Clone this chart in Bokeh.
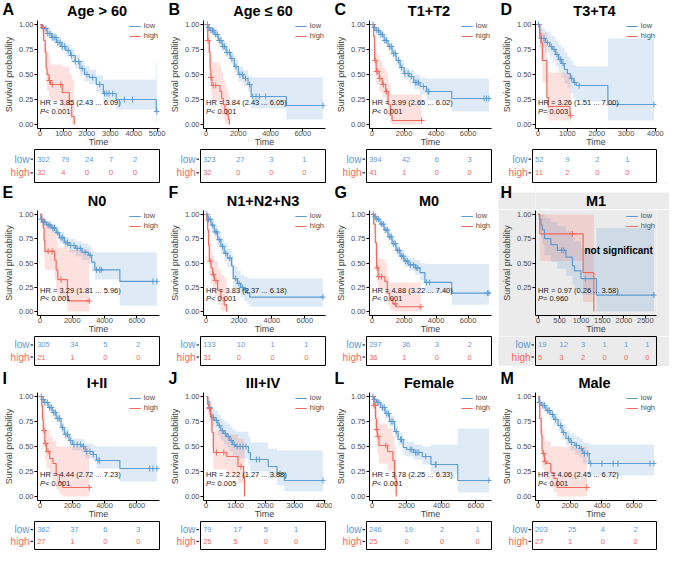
from bokeh.plotting import figure
from bokeh.layouts import row, column
from bokeh.models import Legend, LegendItem, FixedTicker, Range1d, BoxAnnotation
from bokeh.core.properties import value
from bokeh.embed import file_html
from bokeh.resources import INLINE

FONT = "Liberation Sans"
BLUE = "#5c9bd3"
RED = "#f26a5e"
GRAY_BG = "#ebebeb"
TICK_COL = "#4d4d4d"

y_ticks = [0, 0.25, 0.5, 0.75, 1.0]
y_tick_labels = ["0.00", "0.25", "0.50", "0.75", "1.00"]

# ---------------- A: Age > 60 ----------------
A_low_t = [0, 100, 300, 500, 700, 900, 1100, 1300, 1500, 1700, 1900, 2100, 2400, 2700, 3250, 4960]
A_low_s = [1.0, 0.96, 0.91, 0.87, 0.82, 0.78, 0.74, 0.69, 0.63, 0.56, 0.50, 0.47, 0.40, 0.31, 0.25, 0.13]
A_low_lo = [1.0, 0.94, 0.88, 0.83, 0.77, 0.73, 0.68, 0.62, 0.56, 0.49, 0.43, 0.40, 0.32, 0.22, 0.15, 0.02]
A_low_hi = [1.0, 0.98, 0.94, 0.91, 0.87, 0.84, 0.80, 0.76, 0.70, 0.64, 0.58, 0.55, 0.49, 0.45, 0.45, 0.62]
A_low_cens = [150, 250, 330, 420, 520, 600, 680, 760, 850, 950, 1050, 1200, 1350, 1500, 1650, 1800, 2000, 2250, 2550, 2750, 2850, 2950, 3100, 3600, 3950, 4990]
A_high_t = [0, 50, 150, 220, 260, 300, 380, 450, 950, 1250, 1350, 1460]
A_high_s = [1.0, 0.97, 0.84, 0.72, 0.56, 0.50, 0.44, 0.40, 0.32, 0.20, 0.08, 0.0]
A_high_lo = [1.0, 0.91, 0.72, 0.58, 0.41, 0.34, 0.28, 0.24, 0.16, 0.06, 0.0, 0.0]
A_high_hi = [1.0, 1.0, 0.98, 0.90, 0.76, 0.72, 0.66, 0.60, 0.58, 0.50, 0.45, 0.0]
A_high_cens = [130, 400, 520, 880]
A_ticks = [0, 1000, 2000, 3000, 4000, 5000]
A_risk_t = [0, 1000, 2000, 3000, 4000]
A_risk_low = [302, 79, 24, 7, 2]
A_risk_high = [32, 4, 0, 0, 0]

# ---------------- B: Age <= 60 ----------------
B_low_t = [0, 100, 250, 500, 750, 1000, 1250, 1500, 1750, 2000, 2300, 2600, 2800, 4980]
B_low_s = [1.0, 0.97, 0.94, 0.90, 0.84, 0.78, 0.72, 0.66, 0.58, 0.50, 0.46, 0.40, 0.28, 0.19]
B_low_lo = [1.0, 0.95, 0.92, 0.87, 0.80, 0.74, 0.67, 0.60, 0.52, 0.43, 0.39, 0.32, 0.16, 0.05]
B_low_hi = [1.0, 0.99, 0.97, 0.93, 0.88, 0.83, 0.77, 0.72, 0.65, 0.58, 0.54, 0.49, 0.47, 0.47]
B_low_cens = [80, 180, 300, 400, 480, 600, 700, 820, 920, 1050, 1150, 1300, 1450, 1600, 1850, 2100, 2250, 2450, 2700, 2900, 3100, 3300, 3700, 7250]
B_high_t = [0, 100, 200, 250, 300, 360, 870, 970, 1070, 1170, 1270, 1380, 1450]
B_high_s = [1.0, 0.84, 0.72, 0.55, 0.47, 0.39, 0.33, 0.26, 0.20, 0.15, 0.10, 0.05, 0.0]
B_high_lo = [1.0, 0.72, 0.58, 0.40, 0.31, 0.23, 0.17, 0.10, 0.05, 0.01, 0.0, 0.0, 0.0]
B_high_hi = [1.0, 0.98, 0.90, 0.76, 0.68, 0.62, 0.58, 0.52, 0.45, 0.40, 0.35, 0.30, 0.0]
B_high_cens = [120, 300, 450, 600]
B_ticks = [0, 2000, 4000, 6000]
B_risk_t = [0, 2000, 4000, 6000]
B_risk_low = [323, 27, 3, 1]
B_risk_high = [32, 0, 0, 0]

# ---------------- C: T1+T2 ----------------
C_low_t = [0, 100, 250, 500, 750, 1000, 1250, 1500, 1750, 2000, 2300, 2600, 3000, 3400, 4980]
C_low_s = [1.0, 0.97, 0.94, 0.90, 0.84, 0.78, 0.71, 0.64, 0.57, 0.51, 0.48, 0.42, 0.38, 0.33, 0.26]
C_low_lo = [1.0, 0.95, 0.92, 0.87, 0.81, 0.74, 0.67, 0.59, 0.52, 0.45, 0.41, 0.35, 0.30, 0.24, 0.13]
C_low_hi = [1.0, 0.99, 0.96, 0.93, 0.88, 0.82, 0.76, 0.69, 0.63, 0.57, 0.55, 0.50, 0.47, 0.46, 0.46]
C_low_cens = [60, 150, 300, 400, 550, 650, 800, 900, 1100, 1200, 1350, 1450, 1650, 1850, 2050, 2250, 2450, 2700, 2800, 2900, 3200, 3500, 3550, 7000, 7150, 7300]
C_high_t = [0, 100, 160, 260, 450, 650, 850, 1000, 1150, 1250]
C_high_s = [1.0, 0.88, 0.64, 0.53, 0.46, 0.40, 0.33, 0.20, 0.09, 0.04]
C_high_lo = [1.0, 0.78, 0.51, 0.40, 0.33, 0.27, 0.20, 0.09, 0.02, 0.0]
C_high_hi = [1.0, 0.98, 0.80, 0.70, 0.63, 0.57, 0.52, 0.40, 0.30, 0.30]
C_high_cens = [200, 300, 350, 500, 700, 900, 3100]
C_ticks = [0, 2000, 4000, 6000]
C_risk_t = [0, 2000, 4000, 6000]
C_risk_low = [394, 42, 6, 3]
C_risk_high = [41, 1, 0, 0]

# ---------------- D: T3+T4 ----------------
D_low_t = [0, 60, 250, 400, 500, 600, 700, 800, 900, 1000, 1100, 1200, 1300, 2380]
D_low_s = [1.0, 0.86, 0.82, 0.78, 0.75, 0.70, 0.65, 0.61, 0.55, 0.51, 0.46, 0.42, 0.39, 0.20]
D_low_lo = [1.0, 0.77, 0.72, 0.67, 0.63, 0.58, 0.52, 0.47, 0.41, 0.37, 0.31, 0.26, 0.23, 0.04]
D_low_hi = [1.0, 0.96, 0.93, 0.90, 0.88, 0.84, 0.80, 0.77, 0.72, 0.68, 0.64, 0.60, 0.58, 0.86]
D_low_cens = [20, 120, 200, 320, 450, 550, 650, 750, 780, 850, 1150, 1250, 1400, 3950]
D_high_t = [0, 50, 100, 150, 300, 350, 1090]
D_high_s = [1.0, 0.91, 0.82, 0.64, 0.27, 0.18, 0.09]
D_high_lo = [1.0, 0.75, 0.62, 0.42, 0.10, 0.04, 0.0]
D_high_hi = [1.0, 1.0, 1.0, 0.92, 0.62, 0.52, 0.50]
D_high_cens = [1110]
D_ticks = [0, 1000, 2000, 3000, 4000]
D_risk_t = [0, 1000, 2000, 3000]
D_risk_low = [52, 9, 2, 1]
D_risk_high = [11, 2, 0, 0]

# ---------------- E: N0 ----------------
E_low_t = [0, 50, 150, 400, 700, 1000, 1200, 1500, 1800, 2200, 2600, 3000, 3200, 3400, 4950]
E_low_s = [1.0, 0.95, 0.92, 0.89, 0.86, 0.81, 0.76, 0.71, 0.68, 0.65, 0.61, 0.58, 0.51, 0.43, 0.31]
E_low_lo = [1.0, 0.92, 0.89, 0.85, 0.81, 0.76, 0.70, 0.65, 0.61, 0.57, 0.53, 0.49, 0.41, 0.33, 0.06]
E_low_hi = [1.0, 0.98, 0.96, 0.93, 0.90, 0.86, 0.82, 0.77, 0.75, 0.72, 0.70, 0.68, 0.62, 0.61, 0.61]
E_low_cens = [80, 200, 300, 500, 600, 800, 900, 1100, 1300, 1400, 1600, 1700, 1900, 2100, 2300, 2500, 2800, 3100, 3500, 3700, 3800, 7000, 7250]
E_high_t = [0, 100, 200, 250, 300, 900, 1000, 1100, 1700]
E_high_s = [1.0, 0.95, 0.86, 0.73, 0.62, 0.53, 0.43, 0.33, 0.11]
E_high_lo = [1.0, 0.86, 0.72, 0.55, 0.43, 0.33, 0.22, 0.13, 0.0]
E_high_hi = [1.0, 1.0, 1.0, 0.95, 0.88, 0.82, 0.74, 0.66, 0.64]
E_high_cens = [500, 750, 1300, 3050]
E_ticks = [0, 2000, 4000, 6000]
E_risk_t = [0, 2000, 4000, 6000]
E_risk_low = [305, 34, 5, 2]
E_risk_high = [21, 1, 0, 0]

# ---------------- F: N1+N2+N3 ----------------
F_low_t = [0, 100, 300, 500, 700, 900, 1100, 1300, 1550, 1650, 1900, 2100, 2300, 2500, 2650]
F_low_s = [1.0, 0.95, 0.89, 0.82, 0.74, 0.67, 0.60, 0.55, 0.47, 0.34, 0.29, 0.25, 0.22, 0.19, 0.15]
F_low_lo = [1.0, 0.91, 0.84, 0.76, 0.67, 0.59, 0.52, 0.46, 0.37, 0.24, 0.19, 0.15, 0.11, 0.08, 0.05]
F_low_hi = [1.0, 0.99, 0.95, 0.89, 0.82, 0.76, 0.70, 0.65, 0.58, 0.47, 0.42, 0.38, 0.36, 0.34, 0.34]
F_low_cens = [50, 150, 250, 400, 550, 650, 800, 1000, 1200, 1450, 1800, 2000, 2200, 2400, 7100]
F_high_t = [0, 50, 100, 150, 200, 300, 400, 500, 700, 900, 1100, 1250]
F_high_s = [1.0, 0.93, 0.84, 0.68, 0.52, 0.45, 0.38, 0.32, 0.22, 0.14, 0.07, 0.0]
F_high_lo = [1.0, 0.84, 0.72, 0.54, 0.37, 0.29, 0.22, 0.16, 0.07, 0.01, 0.0, 0.0]
F_high_hi = [1.0, 1.0, 0.97, 0.84, 0.70, 0.63, 0.57, 0.52, 0.44, 0.38, 0.35, 0.0]
F_high_cens = [250, 450, 600]
F_ticks = [0, 2000, 4000, 6000]
F_risk_t = [0, 2000, 4000, 6000]
F_risk_low = [133, 10, 1, 1]
F_risk_high = [31, 0, 0, 0]

# ---------------- G: M0 ----------------
G_low_t = [0, 100, 250, 500, 750, 1000, 1250, 1500, 1750, 2000, 2300, 2700, 3000, 3300, 4980]
G_low_s = [1.0, 0.98, 0.95, 0.90, 0.84, 0.77, 0.70, 0.63, 0.57, 0.52, 0.48, 0.45, 0.40, 0.30, 0.19]
G_low_lo = [1.0, 0.97, 0.93, 0.87, 0.80, 0.73, 0.66, 0.58, 0.52, 0.46, 0.42, 0.38, 0.32, 0.19, 0.07]
G_low_hi = [1.0, 0.99, 0.97, 0.93, 0.88, 0.82, 0.75, 0.68, 0.63, 0.58, 0.55, 0.53, 0.50, 0.49, 0.49]
G_low_cens = [80, 200, 300, 400, 600, 700, 850, 950, 1100, 1200, 1350, 1450, 1600, 1700, 1850, 1950, 2100, 2200, 2400, 2600, 2750, 2850, 3400, 3600, 7200, 7300]
G_high_t = [0, 100, 200, 280, 380, 800, 950, 1100, 1300, 1500]
G_high_s = [1.0, 0.90, 0.71, 0.45, 0.36, 0.31, 0.19, 0.13, 0.08, 0.05]
G_high_lo = [1.0, 0.81, 0.58, 0.31, 0.23, 0.18, 0.07, 0.02, 0.0, 0.0]
G_high_hi = [1.0, 0.99, 0.86, 0.62, 0.54, 0.50, 0.36, 0.30, 0.30, 0.30]
G_high_cens = [320, 420, 600, 1450, 3050]
G_ticks = [0, 2000, 4000, 6000]
G_risk_t = [0, 2000, 4000, 6000]
G_risk_low = [297, 36, 3, 2]
G_risk_high = [36, 1, 0, 0]

# ---------------- H: M1 ----------------
H_low_t = [0, 30, 70, 100, 150, 300, 450, 650, 800, 850, 1000, 1360]
H_low_s = [1.0, 0.95, 0.89, 0.84, 0.75, 0.69, 0.63, 0.56, 0.47, 0.42, 0.34, 0.17]
H_low_lo = [1.0, 0.85, 0.76, 0.69, 0.58, 0.51, 0.44, 0.37, 0.28, 0.23, 0.17, 0.0]
H_low_hi = [1.0, 1.0, 1.0, 1.0, 0.96, 0.92, 0.88, 0.83, 0.76, 0.72, 0.65, 0.86]
H_low_cens = [550, 600, 1100, 2700]
H_high_t = [0, 40, 1050, 1300]
H_high_s = [1.0, 0.80, 0.40, 0.0]
H_high_lo = [1.0, 0.52, 0.10, 0.0]
H_high_hi = [1.0, 1.0, 1.0, 0.0]
H_high_cens = [800]
H_ticks = [0, 500, 1000, 1500, 2000, 2500]
H_risk_t = [0, 500, 1000, 1500, 2000, 2500]
H_risk_low = [19, 12, 3, 1, 1, 1]
H_risk_high = [5, 3, 2, 0, 0, 0]

# ---------------- I: I+II ----------------
I_low_t = [0, 100, 250, 500, 750, 1000, 1300, 1500, 1800, 2000, 2600, 2800, 3300, 3500, 4950]
I_low_s = [1.0, 0.97, 0.94, 0.89, 0.84, 0.78, 0.69, 0.62, 0.56, 0.52, 0.50, 0.45, 0.42, 0.36, 0.28]
I_low_lo = [1.0, 0.95, 0.91, 0.86, 0.80, 0.74, 0.64, 0.57, 0.50, 0.46, 0.44, 0.38, 0.35, 0.28, 0.15]
I_low_hi = [1.0, 0.99, 0.96, 0.93, 0.88, 0.83, 0.74, 0.68, 0.62, 0.58, 0.57, 0.53, 0.51, 0.50, 0.50]
I_low_cens = [80, 200, 300, 450, 600, 700, 850, 950, 1100, 1200, 1400, 1600, 1700, 1900, 2100, 2300, 2500, 2700, 2900, 3100, 3300, 3600, 3700, 6800, 7000, 7250]
I_high_t = [0, 100, 150, 200, 300, 400, 600, 800, 1000, 1200, 1400]
I_high_s = [1.0, 0.91, 0.77, 0.66, 0.53, 0.45, 0.38, 0.33, 0.22, 0.14, 0.09]
I_high_lo = [1.0, 0.80, 0.62, 0.49, 0.36, 0.28, 0.21, 0.16, 0.07, 0.02, 0.0]
I_high_hi = [1.0, 1.0, 0.93, 0.84, 0.73, 0.66, 0.60, 0.56, 0.50, 0.50, 0.50]
I_high_cens = [250, 350, 500, 3050]
I_ticks = [0, 2000, 4000, 6000]
I_risk_t = [0, 2000, 4000, 6000]
I_risk_low = [362, 37, 6, 3]
I_risk_high = [27, 1, 0, 0]

# ---------------- J: III+IV ----------------
J_low_t = [0, 50, 100, 150, 200, 300, 400, 500, 600, 700, 800, 900, 1000, 1430, 1500, 2100, 2400, 2650]
J_low_s = [1.0, 0.95, 0.89, 0.82, 0.79, 0.76, 0.71, 0.66, 0.63, 0.60, 0.56, 0.52, 0.50, 0.44, 0.37, 0.30, 0.23, 0.16]
J_low_lo = [1.0, 0.90, 0.82, 0.74, 0.70, 0.67, 0.61, 0.56, 0.52, 0.49, 0.45, 0.41, 0.38, 0.32, 0.25, 0.18, 0.11, 0.05]
J_low_hi = [1.0, 1.0, 0.96, 0.91, 0.88, 0.86, 0.82, 0.78, 0.75, 0.73, 0.70, 0.67, 0.65, 0.60, 0.54, 0.48, 0.46, 0.46]
J_low_cens = [120, 250, 350, 450, 550, 650, 750, 850, 950, 1050, 1150, 1250, 1350, 1700, 1800, 2500, 3950]
J_high_t = [0, 50, 100, 150, 200, 250, 700, 1080, 1270, 1300]
J_high_s = [1.0, 0.92, 0.88, 0.80, 0.64, 0.44, 0.40, 0.30, 0.20, 0.0]
J_high_lo = [1.0, 0.82, 0.76, 0.66, 0.48, 0.27, 0.23, 0.13, 0.02, 0.0]
J_high_hi = [1.0, 1.0, 1.0, 0.96, 0.84, 0.66, 0.62, 0.58, 0.55, 0.0]
J_high_cens = [120, 350, 600, 1180]
J_ticks = [0, 1000, 2000, 3000, 4000]
J_risk_t = [0, 1000, 2000, 3000]
J_risk_low = [79, 17, 5, 1]
J_risk_high = [25, 5, 0, 0]

# ---------------- L: Female ----------------
L_low_t = [0, 100, 250, 500, 750, 1000, 1300, 1500, 1800, 2000, 2400, 2900, 3400, 4950]
L_low_s = [1.0, 0.97, 0.94, 0.89, 0.83, 0.75, 0.65, 0.57, 0.49, 0.47, 0.44, 0.40, 0.32, 0.16]
L_low_lo = [1.0, 0.95, 0.91, 0.85, 0.78, 0.70, 0.59, 0.51, 0.42, 0.40, 0.37, 0.32, 0.23, 0.04]
L_low_hi = [1.0, 0.99, 0.97, 0.93, 0.88, 0.81, 0.71, 0.64, 0.57, 0.55, 0.52, 0.50, 0.52, 0.68]
L_low_cens = [50, 150, 300, 400, 600, 700, 850, 950, 1100, 1200, 1400, 1650, 1700, 2200, 2300, 2500, 2600, 2700, 3100, 3650, 3700, 6750]
L_high_t = [0, 100, 200, 250, 300, 400, 900, 1200, 1300, 1400]
L_high_s = [1.0, 0.91, 0.78, 0.67, 0.60, 0.51, 0.45, 0.36, 0.18, 0.0]
L_high_lo = [1.0, 0.80, 0.62, 0.50, 0.42, 0.33, 0.26, 0.17, 0.03, 0.0]
L_high_hi = [1.0, 1.0, 0.94, 0.86, 0.80, 0.73, 0.68, 0.60, 0.50, 0.0]
L_high_cens = [120, 180, 280, 350, 800]
L_ticks = [0, 2000, 4000, 6000]
L_risk_t = [0, 2000, 4000, 6000]
L_risk_low = [246, 19, 2, 1]
L_risk_high = [25, 0, 0, 0]

# ---------------- M: Male ----------------
M_low_t = [0, 50, 200, 500, 750, 1000, 1250, 1500, 1750, 2000, 2300, 2600, 2800, 3200]
M_low_s = [1.0, 0.94, 0.91, 0.86, 0.82, 0.77, 0.71, 0.64, 0.58, 0.54, 0.51, 0.48, 0.43, 0.33]
M_low_lo = [1.0, 0.91, 0.87, 0.82, 0.77, 0.71, 0.65, 0.57, 0.51, 0.46, 0.42, 0.39, 0.33, 0.21]
M_low_hi = [1.0, 0.97, 0.95, 0.91, 0.87, 0.83, 0.78, 0.72, 0.66, 0.63, 0.60, 0.58, 0.54, 0.52]
M_low_cens = [100, 300, 400, 600, 700, 900, 1100, 1400, 1600, 1900, 2100, 2400, 2700, 2900, 3100, 3300, 4000, 4700, 5000, 7000, 7250]
M_high_t = [0, 100, 200, 250, 300, 400, 500, 800, 1000, 1200]
M_high_s = [1.0, 0.78, 0.62, 0.46, 0.43, 0.35, 0.33, 0.24, 0.18, 0.09]
M_high_lo = [1.0, 0.64, 0.46, 0.30, 0.27, 0.19, 0.17, 0.09, 0.04, 0.0]
M_high_hi = [1.0, 0.94, 0.83, 0.68, 0.66, 0.58, 0.55, 0.50, 0.50, 0.50]
M_high_cens = [350, 450, 3050]
M_ticks = [0, 2000, 4000, 6000]
M_risk_t = [0, 2000, 4000, 6000]
M_risk_low = [203, 25, 4, 2]
M_risk_high = [27, 1, 0, 0]

panel_letters = ["A", "B", "C", "D", "E", "F", "G", "H", "I", "J", "L", "M"]
panel_titles = ["Age > 60", "Age \u2264 60", "T1+T2", "T3+T4", "N0", "N1+N2+N3", "M0", "M1",
                "I+II", "III+IV", "Female", "Male"]
hr_texts = ["HR = 3.85 (2.43 ... 6.09)", "HR = 3.84 (2.43 ... 6.05)", "HR = 3.99 (2.65 ... 6.02)",
            "HR = 3.26 (1.51 ... 7.00)", "HR = 3.29 (1.81 ... 5.96)", "HR = 3.83 (2.37 ... 6.18)",
            "HR = 4.88 (3.22 ... 7.40)", "HR = 0.97 (0.26 ... 3.58)", "HR = 4.44 (2.72 ... 7.23)",
            "HR = 2.22 (1.27 ... 3.88)", "HR = 3.78 (2.25 ... 6.33)", "HR = 4.06 (2.45 ... 6.72)"]
p_texts = [" < 0.001", " < 0.001", " < 0.001", " = 0.003", " < 0.001", " < 0.001",
           " < 0.001", " = 0.960", " < 0.001", " = 0.005", " < 0.001", " < 0.001"]
risk_labels = ["low", "high"]

G_ = globals()


def curve(letter, grp):
    return tuple(G_[f"{letter}_{grp}_{k}"] for k in ("t", "s", "lo", "hi", "cens"))


def step_xy(t, v, end):
    xs, ys = [], []
    for i in range(len(t)):
        nxt = t[i + 1] if i + 1 < len(t) else end
        xs += [t[i], nxt]
        ys += [v[i], v[i]]
    return xs, ys


def surv_at(t, s, c):
    val = s[0]
    for ti, si in zip(t, s):
        if ti <= c:
            val = si
    return val


def blank_fig(w, h, xr, yr, bg, mb_bottom=0):
    f = figure(width=w, height=h, x_range=xr, y_range=yr, output_backend="svg",
               toolbar_location=None, x_axis_type=None, y_axis_type=None,
               min_border_left=0, min_border_right=0, min_border_top=0, min_border_bottom=mb_bottom,
               background_fill_color=bg, border_fill_color=bg, outline_line_color=None)
    f.xgrid.visible = False
    f.ygrid.visible = False
    return f


def make_panel(idx, w, head_h, km_h, risk_h, lb, rb, letter_c, title_c, gray):
    L = panel_letters[idx]
    low = curve(L, "low")
    high = curve(L, "high")
    xmax = max(max(low[0]), max(low[4]), max(high[0]), max(high[4]))
    pad = 0.022 * xmax
    xr = Range1d(-pad, xmax + pad)
    bg = GRAY_BG if gray else "white"
    fw = w - lb - rb

    # header: letter strip + title strip; y measured in pixels from the header's top
    hl = blank_fig(lb, head_h, Range1d(0, lb), Range1d(head_h, 0), bg)
    ht = blank_fig(w - lb, head_h, Range1d(0, w - lb), Range1d(head_h, 0), bg)
    if gray:
        for f in (hl, ht):
            f.add_layout(BoxAnnotation(top=0, bottom=9, fill_color="white", fill_alpha=1,
                                       line_color=None, level="underlay"))
    hl.text(x=[2], y=[letter_c], text=[L], text_font=value(FONT), text_font_size="16px",
            text_font_style="bold", text_color="black", text_baseline="middle",
            text_align="left")
    ht.text(x=[fw / 2], y=[title_c], text=[panel_titles[idx]], text_font=value(FONT),
            text_font_size="14.5px", text_font_style="bold", text_color="black",
            text_baseline="middle", text_align="center")
    header = row(hl, ht, spacing=0)

    p = figure(width=w, height=km_h, x_range=xr, y_range=Range1d(-0.04, 1.04),
               output_backend="svg", toolbar_location=None,
               min_border_left=lb, min_border_right=rb, min_border_top=1, min_border_bottom=0,
               background_fill_color=bg, border_fill_color=bg, outline_line_color=None)
    p.xgrid.visible = False
    p.ygrid.visible = False

    p.xaxis.ticker = FixedTicker(ticks=G_[f"{L}_ticks"])
    yt = y_ticks[1:] if L == "H" else y_ticks
    p.yaxis.ticker = FixedTicker(ticks=yt)
    p.yaxis.major_label_overrides = {t: lab for t, lab in zip(y_ticks, y_tick_labels)}
    p.xaxis.axis_label = "Time"
    p.yaxis.axis_label = "Survival probability"
    for ax in (p.xaxis[0], p.yaxis[0]):
        ax.axis_line_color = "black"
        ax.major_tick_line_color = "black"
        ax.minor_tick_line_color = None
        ax.major_tick_in = 0
        ax.major_tick_out = 3
        ax.major_label_text_font = FONT
        ax.major_label_text_font_size = "7.5px"
        ax.major_label_text_color = TICK_COL
        ax.axis_label_text_font = FONT
        ax.axis_label_text_font_style = "normal"
    p.xaxis.major_label_standoff = -1
    p.xaxis.axis_label_standoff = -2
    p.yaxis.major_label_standoff = 1
    p.yaxis.axis_label_standoff = 2
    p.xaxis.axis_label_text_font_size = "9px"
    p.yaxis.axis_label_text_font_size = "9px"

    renderers = []
    for (t, s, lo, hi, cens), col in ((low, BLUE), (high, RED)):
        end = max(max(t), max(cens))
        xs, lo_y = step_xy(t, lo, end)
        _, hi_y = step_xy(t, hi, end)
        p.varea(x=xs, y1=lo_y, y2=hi_y, fill_color=col, fill_alpha=0.2)
    for (t, s, lo, hi, cens), col in ((low, BLUE), (high, RED)):
        end = max(max(t), max(cens))
        xs, ys = step_xy(t, s, end)
        r = p.line(xs, ys, line_color=col, line_width=1.2)
        renderers.append(r)
        cy = [surv_at(t, s, c) for c in cens]
        p.scatter(cens, cy, marker="cross", size=6, line_color=col, line_width=1)

    legend = Legend(items=[LegendItem(label=risk_labels[0], renderers=[renderers[0]]),
                           LegendItem(label=risk_labels[1], renderers=[renderers[1]])],
                    location="top_right", label_text_font=FONT, label_text_font_size="7.5px",
                    label_text_color=TICK_COL, glyph_width=12, glyph_height=8, label_height=8,
                    label_width=10, label_standoff=3, spacing=1, padding=0, margin=1,
                    border_line_color=None, background_fill_alpha=0)
    p.add_layout(legend)

    p.text(x=[0], y=[0.22], text=[hr_texts[idx]], text_font=value(FONT), text_font_size="7.5px",
           text_baseline="middle", text_align="left", text_color="#222222")
    p.text(x=[0], y=[0.135], text=["P"], text_font=value(FONT), text_font_size="7.5px",
           text_font_style="italic", text_baseline="middle", text_align="left", text_color="#222222")
    p.text(x=[0], y=[0.135], text=[p_texts[idx]], text_font=value(FONT), text_font_size="7.5px",
           x_offset=5, text_baseline="middle", text_align="left", text_color="#222222")
    if L == "H":
        p.text(x=[1080], y=[0.63], text=["not significant"], text_font=value(FONT),
               text_font_size="10px", text_font_style="bold", text_color="black",
               text_baseline="middle", text_align="left")

    # risk table: label strip + boxed table sharing the time axis
    ry = Range1d(-0.7, 1.7)
    wl = lb - 1
    lab = blank_fig(wl, risk_h, Range1d(0, wl), ry, bg, mb_bottom=1)
    lab.text(x=[wl - 4, wl - 4], y=[1, 0], text=risk_labels, text_font=value(FONT),
             text_font_size="10px", text_color=[BLUE, RED], text_baseline="middle",
             text_align="right")
    lab.segment(x0=[wl - 3, wl - 3], y0=[1, 0], x1=[wl, wl], y1=[1, 0], line_color="black",
                line_width=1)

    rk = figure(width=w - wl, height=risk_h, x_range=xr, y_range=ry,
                output_backend="svg", toolbar_location=None, x_axis_type=None, y_axis_type=None,
                min_border_left=1, min_border_right=rb, min_border_top=0, min_border_bottom=1,
                background_fill_color=bg, border_fill_color=bg,
                outline_line_color="black", outline_line_width=1)
    rk.xgrid.visible = False
    rk.ygrid.visible = False
    rt = G_[f"{L}_risk_t"]
    rl = G_[f"{L}_risk_low"]
    rh = G_[f"{L}_risk_high"]
    rk.text(x=rt, y=[1] * len(rt), text=[str(v) for v in rl], text_font=value(FONT),
            text_font_size="7.5px", text_color=BLUE, text_baseline="middle", text_align="left")
    rk.text(x=rt, y=[0] * len(rt), text=[str(v) for v in rh], text_font=value(FONT),
            text_font_size="7.5px", text_color=RED, text_baseline="middle", text_align="left")
    return column(header, p, row(lab, rk, spacing=0), spacing=0)


col_w = [166, 166, 166, 171]
col_rb = [7, 7, 7, 13]
row_cfg = [  # head_h, km_h, risk_h, letter centre, title centre (px from header top)
    (19, 130, 34, 9.0, 10.0),
    (26, 127, 30, 9.2, 17.0),
    (25, 130, 29, 12.0, 16.0),
]

rows = []
for r in range(3):
    head_h, km_h, risk_h, lc, tc = row_cfg[r]
    cols = []
    for c in range(4):
        idx = r * 4 + c
        gray = panel_letters[idx] == "H"
        lb = 37 if gray else 34
        cols.append(make_panel(idx, col_w[c], head_h, km_h, risk_h, lb, col_rb[c], lc, tc, gray))
    rows.append(row(*cols, spacing=0))

layout = column(*rows, spacing=0)
open("out.html", "w").write(file_html(layout, INLINE))
